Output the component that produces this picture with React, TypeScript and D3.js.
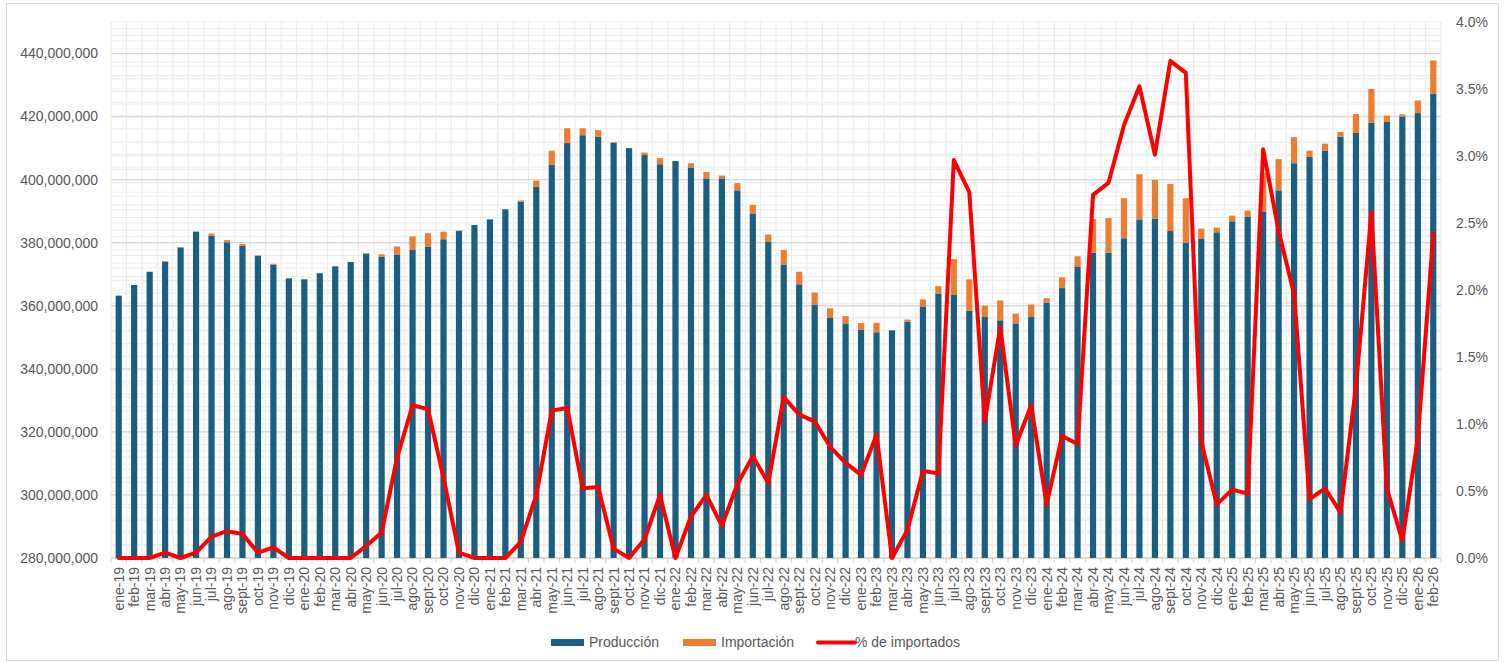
// @ts-nocheck
import React, { useRef, useEffect } from 'react';
import * as d3 from 'd3';

const months = ['ene', 'feb', 'mar', 'abr', 'may', 'jun', 'jul', 'ago', 'sept', 'oct', 'nov', 'dic'];
const years = ['19', '20', '21', '22', '23', '24', '25', '26'];
const labels = years.flatMap(y => months.map(m => `${m}-${y}`)).slice(0, 86);

// Producción, millions
const produccion = [
  363.2, 366.6, 370.8, 374.0, 378.5, 383.4, 382.2, 380.1, 379.0, 375.8, 373.0, 368.7,
  368.4, 370.3, 372.5, 373.9, 376.5, 375.5, 376.1, 377.7, 378.8, 381.1, 383.7, 385.6,
  387.4, 390.6, 393.0, 397.8, 404.7, 411.6, 414.1, 413.6, 411.7, 410.0, 407.8, 404.9,
  405.9, 403.9, 400.4, 400.4, 396.6, 389.1, 380.4, 373.1, 366.8, 360.4, 356.3, 354.2,
  352.4, 351.6, 352.2, 354.9, 359.8, 363.9, 363.6, 358.4, 356.5, 355.4, 354.4, 356.6,
  361.0, 365.6, 372.3, 376.8, 376.8, 381.4, 387.4, 387.7, 383.7, 379.9, 381.2, 383.3,
  386.8, 388.3, 389.9, 396.6, 405.2, 407.3, 409.2, 413.6, 414.8, 418.0, 418.3, 420.0,
  421.1, 427.2,
];

// Importación, millions
const importacion = [
  0, 0, 0, 0.2, 0, 0.2, 0.7, 0.7, 0.6, 0.2, 0.3, 0,
  0, 0, 0, 0, 0.2, 0.8, 2.7, 4.3, 4.2, 2.4, 0.2, 0,
  0, 0, 0.4, 1.9, 4.5, 4.7, 2.2, 2.1, 0.2, 0, 0.8, 1.9,
  0, 1.3, 2.0, 0.9, 2.3, 2.9, 2.2, 4.6, 4.0, 3.8, 2.9, 2.5,
  2.1, 3.0, 0, 0.7, 2.2, 2.3, 11.2, 10.0, 3.5, 6.3, 3.1, 3.8,
  1.4, 3.4, 3.4, 10.7, 11.0, 12.7, 14.3, 12.2, 14.9, 14.2, 3.3, 1.5,
  1.8, 1.9, 12.2, 9.9, 8.3, 1.9, 2.2, 1.5, 6.0, 10.8, 2.0, 0.7,
  4.0, 10.6,
];

// % de importados
const pctImportados = [
  0, 0, 0, 0.04, 0, 0.04, 0.16, 0.2, 0.18, 0.04, 0.08, 0,
  0, 0, 0, 0, 0.09, 0.19, 0.75, 1.14, 1.11, 0.6, 0.04, 0,
  0, 0, 0.12, 0.47, 1.1, 1.12, 0.52, 0.53, 0.07, 0, 0.14, 0.47,
  0, 0.31, 0.47, 0.24, 0.55, 0.76, 0.56, 1.2, 1.07, 1.02, 0.83, 0.71,
  0.62, 0.92, 0, 0.21, 0.65, 0.63, 2.97, 2.73, 1.02, 1.72, 0.84, 1.14,
  0.4, 0.91, 0.85, 2.71, 2.8, 3.23, 3.52, 3.01, 3.71, 3.62, 0.87, 0.4,
  0.51, 0.48, 3.05, 2.44, 1.97, 0.44, 0.52, 0.34, 1.28, 2.58, 0.52, 0.13,
  0.89, 2.42,
];

const leftTicks = [280, 300, 320, 340, 360, 380, 400, 420, 440];
const rightTicks = [0, 0.5, 1, 1.5, 2, 2.5, 3, 3.5, 4];

const BLUE = '#1a5f82';
const ORANGE = '#ed7d31';
const RED = '#ff0000';
const FONT = '"Liberation Sans", Arial, sans-serif';
const TEXT = '#595959';

const App = () => {
  const svgRef = useRef(null);
  const width = 1505;
  const height = 663;

  useEffect(() => {
    const svg = d3.select(svgRef.current);
    svg.selectAll('*').remove();

    const left = 111, right = 1441, top = 22, bottom = 558;

    const x = d3.scaleBand().domain(labels).range([left, right]).paddingInner(0.6).paddingOuter(0.3);
    const step = (right - left) / labels.length;
    const yL = d3.scaleLinear().domain([280, 450]).range([bottom, top]);
    const yR = d3.scaleLinear().domain([0, 4]).range([bottom, top]);

    // chart border
    svg.append('rect')
      .attr('x', 6.5).attr('y', 3.5).attr('width', 1492).attr('height', 657)
      .attr('fill', '#fff').attr('stroke', '#d9d9d9');

    const grid = svg.append('g');
    // vertical gridlines at category boundaries
    grid.selectAll('.vg')
      .data(d3.range(labels.length + 1))
      .enter().append('line')
      .attr('x1', i => left + i * step).attr('x2', i => left + i * step)
      .attr('y1', top).attr('y2', bottom)
      .attr('stroke', '#ededed').attr('stroke-width', 1.2);

    // minor horizontal gridlines from both axes
    grid.selectAll('.hmL')
      .data(d3.range(280, 451, 4))
      .enter().append('line')
      .attr('x1', left).attr('x2', right)
      .attr('y1', d => yL(d)).attr('y2', d => yL(d))
      .attr('stroke', '#eeeeee').attr('stroke-width', 1.2);
    grid.selectAll('.hmR')
      .data(d3.range(0, 41).map(d => d / 10))
      .enter().append('line')
      .attr('x1', left).attr('x2', right)
      .attr('y1', d => yR(d)).attr('y2', d => yR(d))
      .attr('stroke', '#f0f0f0').attr('stroke-width', 1.2);

    // major gridlines
    grid.selectAll('.hM')
      .data(leftTicks)
      .enter().append('line')
      .attr('x1', left).attr('x2', right)
      .attr('y1', d => yL(d)).attr('y2', d => yL(d))
      .attr('stroke', '#d9d9d9').attr('stroke-width', 1.3);

    // x axis line and tick marks
    grid.append('line')
      .attr('x1', left).attr('x2', right).attr('y1', bottom).attr('y2', bottom)
      .attr('stroke', '#d9d9d9').attr('stroke-width', 1.3);
    grid.selectAll('.xt')
      .data(d3.range(labels.length + 1))
      .enter().append('line')
      .attr('x1', i => left + i * step).attr('x2', i => left + i * step)
      .attr('y1', bottom).attr('y2', bottom + 5)
      .attr('stroke', '#d9d9d9').attr('stroke-width', 1.2);

    // stacked bars
    const table = labels.map((m, i) => ({ m, prod: produccion[i], imp: importacion[i] }));
    const series = d3.stack().keys(['prod', 'imp'])(table);
    const colors = { prod: BLUE, imp: ORANGE };

    svg.append('g').selectAll('g')
      .data(series)
      .enter().append('g')
      .attr('fill', s => colors[s.key])
      .selectAll('rect')
      .data(s => s)
      .enter().append('rect')
      .attr('x', d => x(d.data.m))
      .attr('width', x.bandwidth())
      .attr('y', d => yL(d[1]))
      .attr('height', d => Math.max(0, yL(Math.max(d[0], 280)) - yL(d[1])));

    // % line
    const line = d3.line()
      .x((d, i) => x(labels[i]) + x.bandwidth() / 2)
      .y(d => yR(d));
    svg.append('path')
      .datum(pctImportados)
      .attr('d', line)
      .attr('fill', 'none')
      .attr('stroke', RED)
      .attr('stroke-width', 4)
      .attr('stroke-linejoin', 'round')
      .attr('stroke-linecap', 'round');

    // left axis labels
    svg.append('g').selectAll('text')
      .data(leftTicks)
      .enter().append('text')
      .attr('x', 98).attr('y', d => yL(d))
      .attr('dy', '0.35em')
      .attr('text-anchor', 'end')
      .attr('font-family', FONT).attr('font-size', 14).attr('fill', TEXT)
      .text(d => d3.format(',')(d * 1e6));

    // right axis labels
    svg.append('g').selectAll('text')
      .data(rightTicks)
      .enter().append('text')
      .attr('x', 1456).attr('y', d => yR(d))
      .attr('dy', '0.35em')
      .attr('font-family', FONT).attr('font-size', 14).attr('fill', TEXT)
      .text(d => d.toFixed(1) + '%');

    // x labels
    svg.append('g').selectAll('text')
      .data(labels)
      .enter().append('text')
      .attr('transform', d => `translate(${x(d) + x.bandwidth() / 2},567) rotate(-90)`)
      .attr('dy', '0.35em')
      .attr('text-anchor', 'end')
      .attr('font-family', FONT).attr('font-size', 14).attr('fill', TEXT)
      .text(d => d);

    // legend
    const lg = svg.append('g').attr('font-family', FONT).attr('font-size', 14).attr('fill', TEXT);
    const items = [
      { name: 'Producción', color: BLUE, type: 'rect', x: 551, tx: 589 },
      { name: 'Importación', color: ORANGE, type: 'rect', x: 683, tx: 721 },
      { name: '% de importados', color: RED, type: 'line', x: 818, tx: 855 },
    ];
    items.forEach(it => {
      if (it.type === 'rect') {
        lg.append('rect').attr('x', it.x).attr('y', 639).attr('width', 33).attr('height', 7).attr('fill', it.color);
      } else {
        lg.append('line').attr('x1', it.x).attr('x2', it.x + 37).attr('y1', 642.5).attr('y2', 642.5)
          .attr('stroke', it.color).attr('stroke-width', 4).attr('stroke-linecap', 'round');
      }
      lg.append('text').attr('x', it.tx).attr('y', 642.5).attr('dy', '0.35em').text(it.name);
    });
  }, []);

  return (
    <svg ref={svgRef} width={width} height={height}
      style={{ position: 'absolute', left: 0, top: 0, background: '#fff' }} />
  );
};

export default App;
